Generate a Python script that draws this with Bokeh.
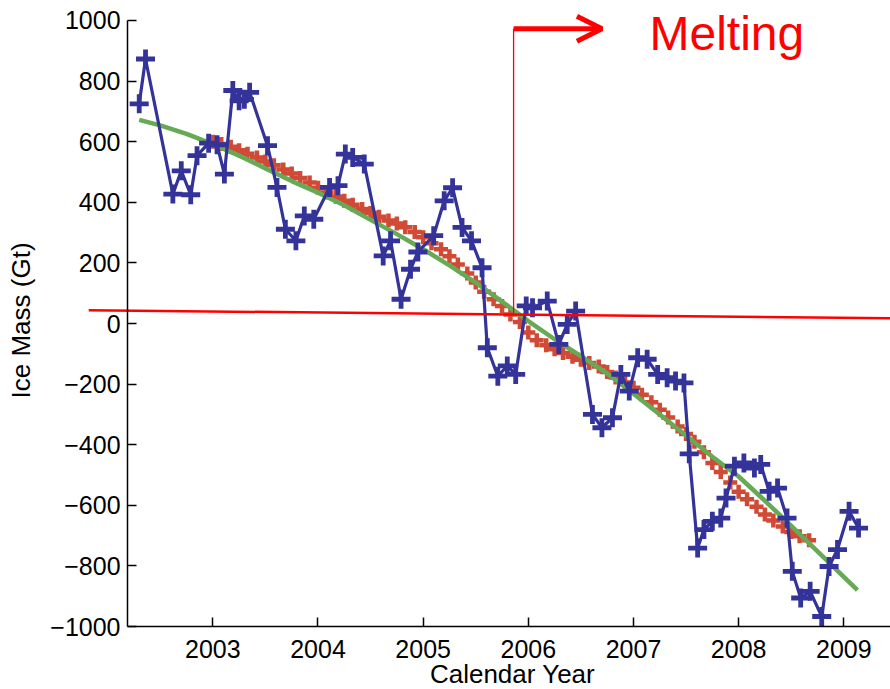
import math
from bokeh.plotting import figure
from bokeh.models import Range1d, FixedTicker, Arrow, OpenHead, Label
from bokeh.embed import file_html
from bokeh.resources import INLINE

# ---------------- data ----------------
x_ticks = [2003, 2004, 2005, 2006, 2007, 2008, 2009]
y_ticks = [-1000, -800, -600, -400, -200, 0, 200, 400, 600, 800, 1000]

# monthly GRACE ice-mass estimates (blue)
grace_year = [2002.30, 2002.36, 2002.62, 2002.70, 2002.79, 2002.85, 2002.96, 2003.04, 2003.11, 2003.19,
              2003.25, 2003.30, 2003.35, 2003.52, 2003.61, 2003.69, 2003.79, 2003.87, 2003.96, 2004.11,
              2004.19, 2004.26, 2004.33, 2004.44, 2004.62, 2004.69, 2004.79, 2004.88, 2004.95, 2005.10,
              2005.20, 2005.28, 2005.37, 2005.46, 2005.56, 2005.61, 2005.71, 2005.80, 2005.88, 2005.98,
              2006.04, 2006.18, 2006.29, 2006.37, 2006.45, 2006.61, 2006.70, 2006.80, 2006.88, 2006.96,
              2007.04, 2007.13, 2007.23, 2007.32, 2007.40, 2007.48, 2007.53, 2007.61, 2007.67, 2007.75,
              2007.83, 2007.88, 2007.96, 2008.05, 2008.15, 2008.21, 2008.29, 2008.37, 2008.46, 2008.51,
              2008.59, 2008.68, 2008.79, 2008.86, 2008.94, 2009.05, 2009.14]
grace_mass = [725, 873, 427, 504, 425, 554, 595, 590, 493, 769,
              735, 740, 763, 587, 449, 311, 273, 355, 344, 449,
              455, 559, 548, 526, 223, 273, 80, 179, 236, 290,
              405, 448, 317, 273, 184, -80, -174, -140, -168, 58,
              52, 74, -69, -3, 41, -300, -344, -311, -168, -223,
              -113, -118, -168, -179, -190, -196, -430, -741, -680, -653,
              -642, -576, -471, -460, -477, -465, -554, -543, -642, -818,
              -906, -884, -967, -802, -746, -620, -675]

# smoothed estimate (red crosses)
smooth_year = [2003.00, 2003.08, 2003.17, 2003.25, 2003.33, 2003.42, 2003.50, 2003.58, 2003.67, 2003.75,
               2003.83, 2003.92, 2004.00, 2004.08, 2004.17, 2004.25, 2004.33, 2004.42, 2004.50, 2004.58,
               2004.67, 2004.75, 2004.83, 2004.92, 2005.00, 2005.08, 2005.17, 2005.25, 2005.33, 2005.42,
               2005.50, 2005.58, 2005.67, 2005.75, 2005.83, 2005.92, 2006.00, 2006.08, 2006.17, 2006.25,
               2006.33, 2006.42, 2006.50, 2006.58, 2006.67, 2006.75, 2006.83, 2006.92, 2007.00, 2007.08,
               2007.17, 2007.25, 2007.33, 2007.42, 2007.50, 2007.58, 2007.67, 2007.75, 2007.83, 2007.92,
               2008.00, 2008.08, 2008.17, 2008.25, 2008.33, 2008.42, 2008.50, 2008.58, 2008.67]
smooth_mass = [600, 592, 583, 572, 560, 548, 535, 522, 508, 495,
               480, 465, 448, 432, 418, 405, 392, 378, 365, 352,
               340, 330, 318, 302, 285, 265, 245, 222, 195, 165,
               135, 105, 80, 58, 30, 5, -30, -55, -72, -85,
               -97, -110, -120, -130, -142, -160, -178, -195, -212, -235,
               -260, -285, -310, -340, -365, -390, -425, -460, -490, -525,
               -555, -580, -605, -630, -650, -670, -688, -702, -715]

# quadratic trend (green)
trend_year = [2002.30, 2002.50, 2002.75, 2003.00, 2003.25, 2003.50, 2003.75, 2004.00, 2004.25, 2004.50,
              2004.75, 2005.00, 2005.25, 2005.50, 2005.75, 2006.00, 2006.25, 2006.50, 2006.75, 2007.00,
              2007.25, 2007.50, 2007.75, 2008.00, 2008.25, 2008.50, 2008.75, 2009.00, 2009.13]
trend_mass = [672, 654, 626, 592, 554, 512, 470, 432, 390, 342,
              295, 245, 192, 135, 72, 8, -52, -108, -165, -232,
              -300, -370, -440, -505, -585, -668, -752, -836, -880]

# annotation geometry (data units)
zero_line_x = [2001.82, 2009.444]
zero_line_y = [44, 17]
melt_year = 2005.86
melt_top = 973
melt_bottom = 30
melt_arrow_end = 2006.70
melt_label = "Melting"
x_title = "Calendar Year"
y_title = "Ice Mass (Gt)"

FONT = "Liberation Sans"

# axes extent (data) -- the frame fills the whole canvas, axes sit at fixed locations
X_AXIS_MIN, X_AXIS_MAX = 2002.189, 2009.444
Y_AXIS_MIN, Y_AXIS_MAX = -1000, 1000

p = figure(width=890, height=689, output_backend="svg", toolbar_location=None,
           x_range=Range1d(2000.981, 2009.444), y_range=Range1d(-1207.9, 1066.0),
           min_border_left=0, min_border_right=0, min_border_top=0, min_border_bottom=0)
p.outline_line_color = None
p.grid.visible = False
p.background_fill_color = "white"
p.border_fill_color = "white"

for ax in (p.xaxis[0], p.yaxis[0]):
    ax.major_tick_in = 9
    ax.major_tick_out = 0
    ax.minor_tick_line_color = None
    ax.axis_line_color = "black"
    ax.axis_line_width = 1.5
    ax.major_tick_line_color = "black"
    ax.major_tick_line_width = 1.5
    ax.major_label_text_font = FONT
    ax.major_label_text_font_size = "25px"
    ax.major_label_text_color = "black"

p.xaxis.ticker = FixedTicker(ticks=x_ticks)
p.yaxis.ticker = FixedTicker(ticks=y_ticks)
p.yaxis.major_label_overrides = {t: (str(t).replace("-", "\u2212")) for t in y_ticks}
p.xaxis.major_label_standoff = 13
p.yaxis.major_label_standoff = 7
p.xaxis.fixed_location = Y_AXIS_MIN
p.yaxis.fixed_location = X_AXIS_MIN
p.xaxis.bounds = (X_AXIS_MIN, X_AXIS_MAX)
p.yaxis.bounds = (Y_AXIS_MIN, Y_AXIS_MAX)

# axis titles
p.add_layout(Label(x=2005.85, y=-1158, text=x_title, text_font=FONT,
                   text_font_size="26px", text_color="black",
                   text_align="center", text_baseline="alphabetic"))
p.add_layout(Label(x=2001.18, y=10, text=y_title, text_font=FONT, angle=math.pi / 2,
                   text_font_size="26px", text_color="black",
                   text_align="center", text_baseline="alphabetic"))

# red smoothed crosses
p.scatter(smooth_year, smooth_mass, marker="cross", size=14, line_width=4.5,
          line_color="#d04a36")
# green trend
p.line(trend_year, trend_mass, line_color="#66aa55", line_width=4.5)
# blue monthly series
p.line(grace_year, grace_mass, line_color="#333399", line_width=3.2)
p.scatter(grace_year, grace_mass, marker="cross", size=19, line_width=4.8,
          line_color="#333399")

# red annotations
p.line(zero_line_x, zero_line_y, line_color="#ff0000", line_width=2.5)
p.segment(x0=[melt_year], y0=[melt_top], x1=[melt_year], y1=[melt_bottom],
          line_color="#ff0000", line_width=1.3)
p.add_layout(Arrow(end=OpenHead(size=25, line_color="#ff0000", line_width=5),
                   x_start=melt_year, y_start=melt_top,
                   x_end=melt_arrow_end, y_end=melt_top,
                   line_color="#ff0000", line_width=5))
p.add_layout(Label(x=2007.152, y=958, text=melt_label, text_font=FONT,
                   text_font_size="48px", text_color="#ff0000",
                   text_align="left", text_baseline="alphabetic"))

open("out.html", "w").write(file_html(p, INLINE))
